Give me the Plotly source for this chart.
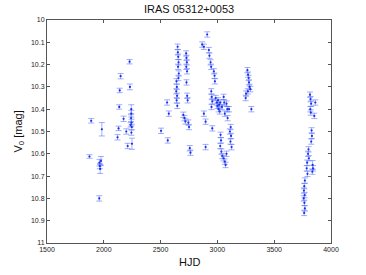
import plotly.graph_objects as go

hjd = [
    1874, 1889, 1983, 1962, 1965, 1968, 1975, 1960,
    2121, 2130, 2136, 2140, 2148, 2174, 2198, 2210, 2227, 2230, 2242, 2242, 2240, 2244, 2246, 2243, 2248, 2236,
    2504, 2557, 2563, 2572, 2640, 2643, 2638, 2645, 2641, 2647, 2650, 2652, 2655, 2658, 2654, 2660, 2657,
    2700, 2710, 2718, 2725, 2728, 2731, 2726, 2733, 2728, 2734, 2738, 2745, 2750, 2757, 2763,
    2866, 2881, 2910, 2925, 2930, 2940, 2945, 2969, 2975, 2978, 2881, 2896, 2896, 2946, 2950, 2955, 2948, 2955,
    2985, 2995, 3000, 3005, 3010, 3015, 3020, 3025, 3040, 3055, 3060, 3065, 3080, 3087, 3090, 3102,
    3028, 3032, 3025, 3035, 3043, 3055, 3065, 3072, 3080, 3117, 3110, 3120, 3115, 3125,
    3249, 3252, 3264, 3270, 3275, 3278, 3283, 3268, 3290, 3299,
    3815, 3820, 3825, 3818, 3822, 3862, 3853, 3829, 3832, 3826, 3802, 3798, 3805, 3838, 3842, 3836,
    3790, 3786, 3793, 3770, 3765, 3762, 3768, 3760, 3766, 3770, 3764,
]
v0 = [
    10.612, 10.452, 10.490, 10.640, 10.655, 10.668, 10.632, 10.800,
    10.526, 10.486, 10.390, 10.316, 10.252, 10.443, 10.500, 10.565, 10.187, 10.300, 10.400, 10.420, 10.440, 10.460, 10.480, 10.505, 10.555, 10.470,
    10.497, 10.370, 10.540, 10.420, 10.275, 10.300, 10.320, 10.340, 10.360, 10.385, 10.120, 10.145, 10.165, 10.190, 10.210, 10.240, 10.260,
    10.425, 10.440, 10.455, 10.150, 10.170, 10.190, 10.210, 10.230, 10.280, 10.340, 10.360, 10.460, 10.480, 10.575, 10.595,
    10.110, 10.120, 10.065, 10.135, 10.160, 10.190, 10.210, 10.230, 10.250, 10.275, 10.420, 10.456, 10.570, 10.320, 10.345, 10.365, 10.390, 10.486,
    10.350, 10.370, 10.385, 10.360, 10.400, 10.380, 10.410, 10.370, 10.390, 10.345, 10.370, 10.420, 10.375, 10.400, 10.440, 10.400,
    10.515, 10.540, 10.565, 10.590, 10.610, 10.620, 10.635, 10.650, 10.600, 10.480, 10.500, 10.520, 10.545, 10.570,
    10.350, 10.330, 10.225, 10.245, 10.260, 10.280, 10.300, 10.320, 10.310, 10.400,
    10.335, 10.355, 10.375, 10.400, 10.415, 10.370, 10.430, 10.495, 10.520, 10.545, 10.580, 10.600, 10.620, 10.650, 10.665, 10.680,
    10.640, 10.665, 10.690, 10.720, 10.745, 10.765, 10.785, 10.800, 10.820, 10.845, 10.865,
]
v0_err = [
    0.008, 0.010, 0.030, 0.015, 0.012, 0.020, 0.020, 0.012,
    0.012, 0.010, 0.010, 0.010, 0.012, 0.012, 0.012, 0.012, 0.010, 0.013, 0.020, 0.015, 0.015, 0.015, 0.012, 0.012, 0.025, 0.010,
] + [0.012] * 103 + [0.020] + [0.012] * 18

x_ticks = [1500, 2000, 2500, 3000, 3500, 4000]
y_ticks = [10, 10.1, 10.2, 10.3, 10.4, 10.5, 10.6, 10.7, 10.8, 10.9, 11]

FONT = "Liberation Sans"
W, H = 366, 275
L, T = 47, 20
PW, PH = 284, 223
R, B = W - L - PW, H - T - PH

fig = go.Figure()
fig.add_trace(go.Scatter(
    x=hjd, y=v0,
    mode="markers",
    marker=dict(color="#1a2fe0", size=2.2),
    error_y=dict(type="data", array=v0_err[:len(v0)], color="rgba(70,95,255,0.5)",
                 thickness=1, width=3),
    showlegend=False,
))

axis_common = dict(
    showgrid=False, zeroline=False, showline=True, linecolor="#555", linewidth=1,
    mirror="ticks", ticks="inside", ticklen=3, tickcolor="#555",
    tickfont=dict(size=7, color="#222", family=FONT),
)
fig.update_xaxes(range=[1500, 4000], tickvals=x_ticks, **axis_common)
fig.update_yaxes(range=[11, 10], tickvals=y_ticks, ticktext=[str(t) for t in y_ticks],
                 **axis_common)
fig.update_layout(
    width=W, height=H,
    margin=dict(l=L, r=R, t=T, b=B, autoexpand=False),
    paper_bgcolor="white", plot_bgcolor="white",
    annotations=[
        dict(text="IRAS 05312+0053", xref="paper", yref="paper", x=0.5, y=1 + 11 / PH,
             xanchor="center", yanchor="middle", showarrow=False,
             font=dict(size=11, family=FONT, color="#111")),
        dict(text="HJD", xref="paper", yref="paper", x=0.5, y=-19 / PH,
             xanchor="center", yanchor="middle", showarrow=False,
             font=dict(size=11, family=FONT, color="#111")),
        dict(text="V<sub>0</sub> [mag]", xref="paper", yref="paper", x=-29 / PW, y=0.5,
             xanchor="center", yanchor="middle", textangle=-90, showarrow=False,
             font=dict(size=11, family=FONT, color="#111")),
    ],
)
fig.write_html("out.html", config={"displayModeBar": False},
               post_script="document.body.style.margin='0';")
